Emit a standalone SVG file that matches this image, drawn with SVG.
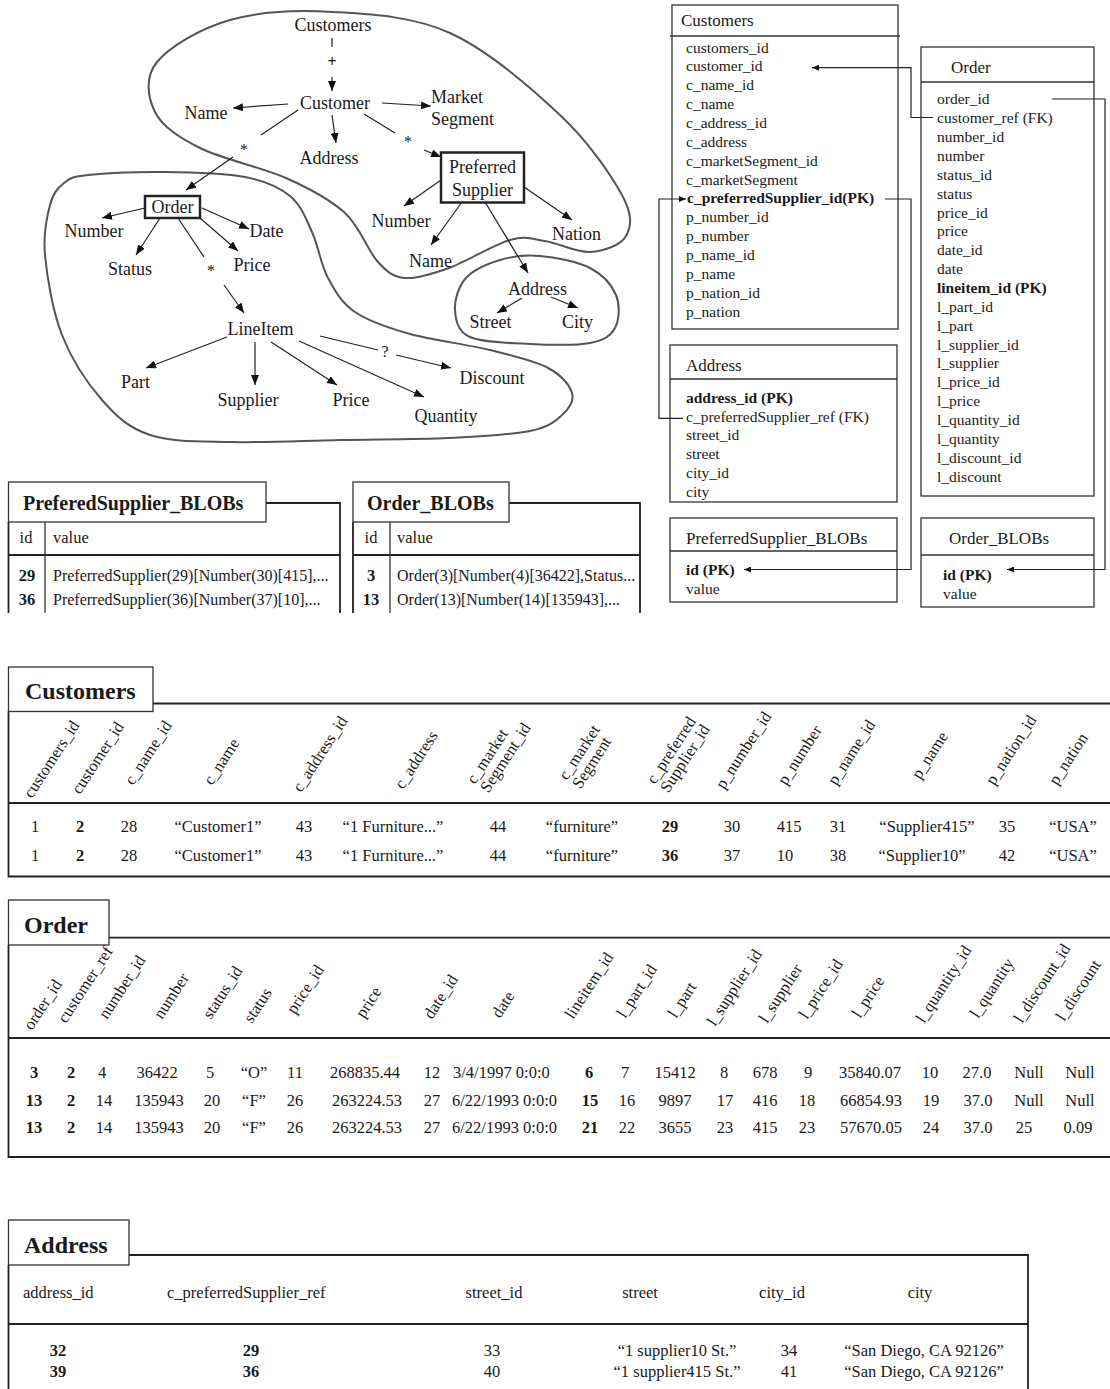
<svg xmlns="http://www.w3.org/2000/svg" width="1110" height="1389" viewBox="0 0 1110 1389">
<defs>
<style>
text{font-family:"Liberation Serif","Times New Roman",serif;fill:#1a1a1a}
.tr{font-size:18px;text-anchor:middle}
.tl{font-size:18px}
.sym{font-size:16px;text-anchor:middle}
.sc{font-size:15.5px}
.sh{font-size:17px}
.b{font-weight:bold}
.td{font-size:16.5px;text-anchor:middle}
.ts{font-size:16.5px}
.hd{font-size:16.5px}
.tt{font-size:24px;font-weight:bold}
.bt{font-size:20px;font-weight:bold}
.blob{fill:none;stroke:#555;stroke-width:2}
.edge{fill:none;stroke:#222;stroke-width:1.2}
.arr{marker-end:url(#ah)}
.box{fill:#fff;stroke:#222;stroke-width:2.5}
.frame{fill:#fff;stroke:#333;stroke-width:1.3}
.rule{fill:none;stroke:#222;stroke-width:1.8}
.thin{fill:none;stroke:#333;stroke-width:1.3}
.lnk{fill:none;stroke:#222;stroke-width:1.2;marker-end:url(#sa)}
</style>
<marker id="ah" markerUnits="userSpaceOnUse" markerWidth="11" markerHeight="8" refX="10" refY="4" orient="auto"><path d="M0,0 L10,4 L0,8 z" fill="#111"/></marker>
<marker id="sa" markerUnits="userSpaceOnUse" markerWidth="8" markerHeight="6" refX="7" refY="3" orient="auto"><path d="M0,0 L7,3 L0,6 z" fill="#111"/></marker>
</defs>
<rect width="1110" height="1389" fill="#fff"/>

<!-- grouping outlines around the element tree -->
<g id="regions">
<path class="blob" d="M333,12 C369.7,14.2 412.2,15.8 450,33 C487.8,50.2 531.3,88 560,115 C588.7,142 611,174.8 622,195 C633,215.2 631.3,226.5 626,236 C620.7,245.5 603.5,251.2 590,252 C576.5,252.8 558.3,243 545,241 C531.7,239 526,235.5 510,240 C494,244.5 466.5,261.7 449,268 C431.5,274.3 416.8,279 405,278 C393.2,277 388,272.8 378,262 C368,251.2 360.3,227 345,213 C329.7,199 310.2,188.8 286,178 C261.8,167.2 221.8,159 200,148 C178.2,137 162.2,126.3 155,112 C147.8,97.7 144.5,77.3 157,62 C169.5,46.7 200.7,28.3 230,20 C259.3,11.7 296.3,9.8 333,12 Z"/>
<path class="blob" d="M88,175 C104.5,173.2 136.8,171.7 163,172 C189.2,172.3 223.8,173 245,177 C266.2,181 278.8,186.8 290,196 C301.2,205.2 305.7,218.3 312,232 C318.3,245.7 320.8,264.7 328,278 C335.2,291.3 341.3,302.7 355,312 C368.7,321.3 387.5,327.7 410,334 C432.5,340.3 467,344.3 490,350 C513,355.7 534.3,360.8 548,368 C561.7,375.2 569.7,385.2 572,393 C574.3,400.8 569,408.7 562,415 C555,421.3 548.8,427.2 530,431 C511.2,434.8 480.7,436.5 449,438 C417.3,439.5 376.5,439.3 340,440 C303.5,440.7 261.7,442.8 230,442 C198.3,441.2 171.3,442 150,435 C128.7,428 116.7,416.7 102,400 C87.3,383.3 71.5,359.2 62,335 C52.5,310.8 47,276.7 45,255 C43,233.3 46.8,217 50,205 C53.2,193 57.7,188 64,183 C70.3,178 71.5,176.8 88,175 Z"/>
<path class="blob" d="M455,310 C454.3,300.2 458.5,286.3 466,278 C473.5,269.7 487.7,263.7 500,260 C512.3,256.3 525,254.7 540,256 C555,257.3 577.3,261.5 590,268 C602.7,274.5 611.8,285 616,295 C620.2,305 619.3,320 615,328 C610.7,336 604,340.3 590,343 C576,345.7 551,345 531,344 C511,343 482.7,342.7 470,337 C457.3,331.3 455.7,319.8 455,310 Z"/>
</g>

<!-- element tree connectors -->
<g id="tree-edges">
<path class="edge" d="M332,38 V47"/>
<text class="sym b" x="332" y="67">+</text>
<path class="edge arr" d="M332,77 V91"/>
<path class="edge arr" d="M288,104 L233,108"/>
<path class="edge arr" d="M382,103 L431,106"/>
<path class="edge arr" d="M332,115 L336,143"/>
<path class="edge" d="M298,110 L261,135"/>
<text class="sym" x="244" y="155">*</text>
<path class="edge arr" d="M233,157 L186,190"/>
<path class="edge" d="M364,114 L395,133"/>
<text class="sym" x="408" y="147">*</text>
<path class="edge arr" d="M424,150 L441,157"/>
<path class="edge arr" d="M145,208 L102,218"/>
<path class="edge arr" d="M202,208 L249,229"/>
<path class="edge arr" d="M200,218 L238,251"/>
<path class="edge arr" d="M160,218 L136,255"/>
<path class="edge" d="M178,218 L204,257"/>
<text class="sym" x="211" y="276">*</text>
<path class="edge arr" d="M224,285 L244,313"/>
<path class="edge arr" d="M441,180 L404,206"/>
<path class="edge arr" d="M462,202 L431,245"/>
<path class="edge arr" d="M524,187 L572,220"/>
<path class="edge arr" d="M485,202 L528,273"/>
<path class="edge arr" d="M522,298 L497,313"/>
<path class="edge arr" d="M551,297 L578,308"/>
<path class="edge arr" d="M227,337 L146,368"/>
<path class="edge arr" d="M255,342 L255,385"/>
<path class="edge arr" d="M271,342 L337,385"/>
<path class="edge arr" d="M299,341 L424,397"/>
<path class="edge" d="M320,336 L378,350"/>
<text class="sym" x="385" y="357">?</text>
<path class="edge arr" d="M396,355 L451,368"/>
</g>

<!-- element tree nodes -->
<g id="n-customers"><text class="tr" x="333" y="31">Customers</text></g>
<g id="n-customer"><text class="tr" x="335" y="108.5">Customer</text></g>
<g id="n-name"><text class="tr" x="206" y="119">Name</text></g>
<g id="n-market"><text class="tl" x="431" y="102.5">Market</text><text class="tl" x="431" y="124.5">Segment</text></g>
<g id="n-address"><text class="tr" x="329" y="163.5">Address</text></g>
<g id="n-supplier"><rect class="box" x="441" y="152.5" width="83" height="50"/><text class="tr" x="482.5" y="172.5">Preferred</text><text class="tr" x="482.5" y="195.5">Supplier</text></g>
<g id="n-order"><rect class="box" x="145" y="196" width="55" height="22"/><text class="tr" x="172.5" y="213">Order</text></g>
<g id="n-o-number"><text class="tr" x="94" y="236.5">Number</text></g>
<g id="n-o-date"><text class="tr" x="266.5" y="236.5">Date</text></g>
<g id="n-o-status"><text class="tr" x="130" y="274.5">Status</text></g>
<g id="n-o-price"><text class="tr" x="252" y="270.5">Price</text></g>
<g id="n-lineitem"><text class="tr" x="260.5" y="334.5">LineItem</text></g>
<g id="n-l-part"><text class="tr" x="135.5" y="387.5">Part</text></g>
<g id="n-l-supplier"><text class="tr" x="248" y="405.5">Supplier</text></g>
<g id="n-l-price"><text class="tr" x="351" y="405.5">Price</text></g>
<g id="n-l-quantity"><text class="tr" x="446" y="421.5">Quantity</text></g>
<g id="n-l-discount"><text class="tr" x="492" y="383.5">Discount</text></g>
<g id="n-p-number"><text class="tr" x="401" y="226.5">Number</text></g>
<g id="n-p-name"><text class="tr" x="430.5" y="266.5">Name</text></g>
<g id="n-p-nation"><text class="tr" x="576.5" y="239.5">Nation</text></g>
<g id="n-p-address"><text class="tr" x="537.5" y="294.5">Address</text></g>
<g id="n-street"><text class="tr" x="490.5" y="327.5">Street</text></g>
<g id="n-city"><text class="tr" x="577.5" y="327.5">City</text></g>

<!-- relational schema -->
<g id="s-customers">
<rect class="frame" x="672" y="5" width="226" height="324"/>
<path class="thin" d="M670,36 H900"/>
<text class="sh" x="681" y="26">Customers</text>
<text class="sc" x="686" y="52.5">customers_id</text>
<text class="sc" x="686" y="71.4">customer_id</text>
<text class="sc" x="686" y="90.2">c_name_id</text>
<text class="sc" x="686" y="109.1">c_name</text>
<text class="sc" x="686" y="127.9">c_address_id</text>
<text class="sc" x="686" y="146.8">c_address</text>
<text class="sc" x="686" y="165.7">c_marketSegment_id</text>
<text class="sc" x="686" y="184.5">c_marketSegment</text>
<text class="sc b" x="687" y="203.4">c_preferredSupplier_id(PK)</text>
<text class="sc" x="686" y="222.2">p_number_id</text>
<text class="sc" x="686" y="241.1">p_number</text>
<text class="sc" x="686" y="260">p_name_id</text>
<text class="sc" x="686" y="278.8">p_name</text>
<text class="sc" x="686" y="297.7">p_nation_id</text>
<text class="sc" x="686" y="316.5">p_nation</text>
</g>
<g id="s-order">
<rect class="frame" x="921" y="47" width="173" height="449"/>
<path class="thin" d="M921,82 H1094"/>
<text class="sh" x="951" y="73">Order</text>
<text class="sc" x="937" y="104.3">order_id</text>
<text class="sc" x="937" y="123.2">customer_ref (FK)</text>
<text class="sc" x="937" y="142">number_id</text>
<text class="sc" x="937" y="160.9">number</text>
<text class="sc" x="937" y="179.7">status_id</text>
<text class="sc" x="937" y="198.6">status</text>
<text class="sc" x="937" y="217.5">price_id</text>
<text class="sc" x="937" y="236.3">price</text>
<text class="sc" x="937" y="255.2">date_id</text>
<text class="sc" x="937" y="274">date</text>
<text class="sc b" x="937" y="292.9">lineitem_id (PK)</text>
<text class="sc" x="937" y="311.8">l_part_id</text>
<text class="sc" x="937" y="330.6">l_part</text>
<text class="sc" x="937" y="349.5">l_supplier_id</text>
<text class="sc" x="937" y="368.3">l_supplier</text>
<text class="sc" x="937" y="387.2">l_price_id</text>
<text class="sc" x="937" y="406.1">l_price</text>
<text class="sc" x="937" y="424.9">l_quantity_id</text>
<text class="sc" x="937" y="443.8">l_quantity</text>
<text class="sc" x="937" y="462.6">l_discount_id</text>
<text class="sc" x="937" y="481.5">l_discount</text>
</g>
<g id="s-address">
<rect class="frame" x="670" y="345" width="227" height="157"/>
<path class="thin" d="M670,379 H897"/>
<text class="sh" x="686" y="371">Address</text>
<text class="sc b" x="686" y="402.7">address_id (PK)</text>
<text class="sc" x="686" y="421.6">c_preferredSupplier_ref (FK)</text>
<text class="sc" x="686" y="440.4">street_id</text>
<text class="sc" x="686" y="459.3">street</text>
<text class="sc" x="686" y="478.1">city_id</text>
<text class="sc" x="686" y="497">city</text>
</g>
<g id="s-ps-blobs">
<rect class="frame" x="670" y="518" width="227" height="84"/>
<path class="thin" d="M670,551 H897"/>
<text class="sh" x="686" y="543.5">PreferredSupplier_BLOBs</text>
<text class="sc b" x="686" y="575">id (PK)</text>
<text class="sc" x="686" y="593.5">value</text>
</g>
<g id="s-order-blobs">
<rect class="frame" x="921" y="518" width="173" height="89"/>
<path class="thin" d="M921,555 H1094"/>
<text class="sh" x="949" y="543.5">Order_BLOBs</text>
<text class="sc b" x="943" y="580">id (PK)</text>
<text class="sc" x="943" y="598.5">value</text>
</g>

<!-- key references between schema tables -->
<g id="s-links">
<path class="lnk" d="M933,117.5 H911 V67.7 H812"/>
<path class="lnk" d="M885,199 H911 V569.5 H744"/>
<path class="lnk" d="M1052,99 H1105 V569.5 H1007"/>
<path class="lnk" d="M683,418.3 H659 V199 H686"/>
</g>

<!-- BLOB tables -->
<g id="t-ps-blobs">
<path class="rule" d="M266,503 H340 V613 M8.5,522 V613 M8.5,555 H340"/>
<path class="thin" d="M45,522 V613"/>
<rect class="frame" x="8.5" y="482" width="257.5" height="40" stroke-width="1.8"/>
<text class="bt" x="23" y="509.5">PreferedSupplier_BLOBs</text>
<text class="td" x="26" y="543">id</text>
<text class="ts" x="53" y="543">value</text>
<text class="td b" x="27" y="581">29</text>
<text class="ts" x="53" y="581" style="font-size:16px">PreferredSupplier(29)[Number(30)[415],...</text>
<text class="td b" x="27" y="605">36</text>
<text class="ts" x="53" y="605" style="font-size:16px">PreferredSupplier(36)[Number(37)[10],...</text>
</g>
<g id="t-order-blobs">
<path class="rule" d="M509,503 H640 V613 M353,522 V613 M353,555 H640"/>
<path class="thin" d="M390,522 V613"/>
<rect class="frame" x="353" y="482" width="156" height="40" stroke-width="1.8"/>
<text class="bt" x="367" y="509.5">Order_BLOBs</text>
<text class="td" x="371" y="543">id</text>
<text class="ts" x="397" y="543">value</text>
<text class="td b" x="371" y="581">3</text>
<text class="ts" x="397" y="581" style="font-size:16px">Order(3)[Number(4)[36422],Status...</text>
<text class="td b" x="371" y="605">13</text>
<text class="ts" x="397" y="605" style="font-size:16px">Order(13)[Number(14)[135943],...</text>
</g>

<!-- Customers table -->
<g id="t-customers">
<path class="rule" d="M153,703.5 H1110 M8.5,711.5 V876.5 H1110 M8.5,803 H1110"/>
<rect class="frame" x="8.5" y="667" width="144.5" height="44.5" stroke-width="1.8"/>
<text class="tt" x="25" y="699">Customers</text>
<text class="hd" transform="translate(32 799) rotate(-57)">customers_id</text>
<text class="hd" transform="translate(80 795) rotate(-57)">customer_id</text>
<text class="hd" transform="translate(133 786) rotate(-57)">c_name_id</text>
<text class="hd" transform="translate(212 786) rotate(-57)">c_name</text>
<text class="hd" transform="translate(301 793) rotate(-57)">c_address_id</text>
<text class="hd" transform="translate(403 790) rotate(-57)">c_address</text>
<text class="hd" transform="translate(475 785) rotate(-57)"><tspan x="0" y="0">c_market</tspan><tspan x="0" y="16">Segment_id</tspan></text>
<text class="hd" transform="translate(567 781) rotate(-57)"><tspan x="0" y="0">c_market</tspan><tspan x="0" y="16">Segment</tspan></text>
<text class="hd" transform="translate(655 785) rotate(-57)"><tspan x="0" y="0">c_preferred</tspan><tspan x="0" y="16">Supplier_id</tspan></text>
<text class="hd" transform="translate(724 790) rotate(-57)">p_number_id</text>
<text class="hd" transform="translate(786 786) rotate(-57)">p_number</text>
<text class="hd" transform="translate(836 786) rotate(-57)">p_name_id</text>
<text class="hd" transform="translate(920 780) rotate(-57)">p_name</text>
<text class="hd" transform="translate(994 786) rotate(-57)">p_nation_id</text>
<text class="hd" transform="translate(1057 786) rotate(-57)">p_nation</text>
<text class="td" x="35" y="832">1</text><text class="td b" x="80" y="832">2</text><text class="td" x="129" y="832">28</text><text class="td" x="218" y="832">“Customer1”</text><text class="td" x="304" y="832">43</text><text class="td" x="393" y="832">“1 Furniture...”</text><text class="td" x="498" y="832">44</text><text class="td" x="582" y="832">“furniture”</text><text class="td b" x="670" y="832">29</text><text class="td" x="732" y="832">30</text><text class="td" x="789" y="832">415</text><text class="td" x="838" y="832">31</text><text class="td" x="927" y="832">“Supplier415”</text><text class="td" x="1007" y="832">35</text><text class="td" x="1073" y="832">“USA”</text>
<text class="td" x="35" y="860.5">1</text><text class="td b" x="80" y="860.5">2</text><text class="td" x="129" y="860.5">28</text><text class="td" x="218" y="860.5">“Customer1”</text><text class="td" x="304" y="860.5">43</text><text class="td" x="393" y="860.5">“1 Furniture...”</text><text class="td" x="498" y="860.5">44</text><text class="td" x="582" y="860.5">“furniture”</text><text class="td b" x="670" y="860.5">36</text><text class="td" x="732" y="860.5">37</text><text class="td" x="785" y="860.5">10</text><text class="td" x="838" y="860.5">38</text><text class="td" x="922" y="860.5">“Supplier10”</text><text class="td" x="1007" y="860.5">42</text><text class="td" x="1073" y="860.5">“USA”</text>
</g>

<!-- Order table -->
<g id="t-order">
<path class="rule" d="M109,937.7 H1110 M8.5,945 V1157 H1110 M8.5,1038 H1110"/>
<rect class="frame" x="8.5" y="900" width="100.5" height="45" stroke-width="1.8"/>
<text class="tt" x="24" y="933">Order</text>
<text class="hd" transform="translate(32 1031) rotate(-57)">order_id</text>
<text class="hd" transform="translate(66 1024) rotate(-57)">customer_ref</text>
<text class="hd" transform="translate(107 1020) rotate(-57)">number_id</text>
<text class="hd" transform="translate(162 1020) rotate(-57)">number</text>
<text class="hd" transform="translate(211 1020) rotate(-57)">status_id</text>
<text class="hd" transform="translate(252 1024) rotate(-57)">status</text>
<text class="hd" transform="translate(295 1015) rotate(-57)">price_id</text>
<text class="hd" transform="translate(364 1019) rotate(-57)">price</text>
<text class="hd" transform="translate(432 1020) rotate(-57)">date_id</text>
<text class="hd" transform="translate(500 1019) rotate(-57)">date</text>
<text class="hd" transform="translate(573 1020) rotate(-57)">lineitem_id</text>
<text class="hd" transform="translate(625 1019) rotate(-57)">l_part_id</text>
<text class="hd" transform="translate(676 1019) rotate(-57)">l_part</text>
<text class="hd" transform="translate(715 1027) rotate(-57)">l_supplier_id</text>
<text class="hd" transform="translate(767 1024) rotate(-57)">l_supplier</text>
<text class="hd" transform="translate(807 1020) rotate(-57)">l_price_id</text>
<text class="hd" transform="translate(860 1019) rotate(-57)">l_price</text>
<text class="hd" transform="translate(924 1024) rotate(-57)">l_quantity_id</text>
<text class="hd" transform="translate(978 1019) rotate(-57)">l_quantity</text>
<text class="hd" transform="translate(1022 1024) rotate(-57)">l_discount_id</text>
<text class="hd" transform="translate(1064 1022) rotate(-57)">l_discount</text>
<text class="td b" x="34" y="1078">3</text><text class="td b" x="71" y="1078">2</text><text class="td" x="102" y="1078">4</text><text class="td" x="157" y="1078">36422</text><text class="td" x="210" y="1078">5</text><text class="td" x="254" y="1078">“O”</text><text class="td" x="295" y="1078">11</text><text class="td" x="365" y="1078">268835.44</text><text class="td" x="432" y="1078">12</text><text class="ts" x="453" y="1078">3/4/1997 0:0:0</text><text class="td b" x="589" y="1078">6</text><text class="td" x="625" y="1078">7</text><text class="td" x="675" y="1078">15412</text><text class="td" x="724" y="1078">8</text><text class="td" x="765" y="1078">678</text><text class="td" x="808" y="1078">9</text><text class="td" x="870" y="1078">35840.07</text><text class="td" x="930" y="1078">10</text><text class="td" x="977" y="1078">27.0</text><text class="td" x="1029" y="1078">Null</text><text class="td" x="1080" y="1078">Null</text>
<text class="td b" x="34" y="1105.5">13</text><text class="td b" x="71" y="1105.5">2</text><text class="td" x="104" y="1105.5">14</text><text class="td" x="159" y="1105.5">135943</text><text class="td" x="212" y="1105.5">20</text><text class="td" x="254" y="1105.5">“F”</text><text class="td" x="295" y="1105.5">26</text><text class="td" x="367" y="1105.5">263224.53</text><text class="td" x="432" y="1105.5">27</text><text class="ts" x="452" y="1105.5">6/22/1993 0:0:0</text><text class="td b" x="590" y="1105.5">15</text><text class="td" x="627" y="1105.5">16</text><text class="td" x="675" y="1105.5">9897</text><text class="td" x="725" y="1105.5">17</text><text class="td" x="765" y="1105.5">416</text><text class="td" x="807" y="1105.5">18</text><text class="td" x="871" y="1105.5">66854.93</text><text class="td" x="931" y="1105.5">19</text><text class="td" x="978" y="1105.5">37.0</text><text class="td" x="1029" y="1105.5">Null</text><text class="td" x="1080" y="1105.5">Null</text>
<text class="td b" x="34" y="1133">13</text><text class="td b" x="71" y="1133">2</text><text class="td" x="104" y="1133">14</text><text class="td" x="159" y="1133">135943</text><text class="td" x="212" y="1133">20</text><text class="td" x="254" y="1133">“F”</text><text class="td" x="295" y="1133">26</text><text class="td" x="367" y="1133">263224.53</text><text class="td" x="432" y="1133">27</text><text class="ts" x="452" y="1133">6/22/1993 0:0:0</text><text class="td b" x="590" y="1133">21</text><text class="td" x="627" y="1133">22</text><text class="td" x="675" y="1133">3655</text><text class="td" x="725" y="1133">23</text><text class="td" x="765" y="1133">415</text><text class="td" x="807" y="1133">23</text><text class="td" x="871" y="1133">57670.05</text><text class="td" x="931" y="1133">24</text><text class="td" x="978" y="1133">37.0</text><text class="td" x="1024" y="1133">25</text><text class="td" x="1078" y="1133">0.09</text>
</g>

<!-- Address table -->
<g id="t-address">
<path class="rule" d="M129,1255 H1028 V1389 M8.5,1265 V1389 M8.5,1324 H1028"/>
<rect class="frame" x="8.5" y="1220" width="120.5" height="45" stroke-width="1.8"/>
<text class="tt" x="24" y="1253">Address</text>
<text class="ts" x="23" y="1298">address_id</text>
<text class="ts" x="167" y="1298">c_preferredSupplier_ref</text>
<text class="td" x="494" y="1298">street_id</text>
<text class="td" x="640" y="1298">street</text>
<text class="td" x="782" y="1298">city_id</text>
<text class="td" x="920" y="1298">city</text>
<text class="td b" x="58" y="1355.5">32</text><text class="td b" x="251" y="1355.5">29</text><text class="td" x="492" y="1355.5">33</text><text class="td" x="677" y="1355.5">“1 supplier10 St.”</text><text class="td" x="789" y="1355.5">34</text><text class="td" x="924" y="1355.5">“San Diego, CA 92126”</text>
<text class="td b" x="58" y="1377">39</text><text class="td b" x="251" y="1377">36</text><text class="td" x="492" y="1377">40</text><text class="td" x="677" y="1377">“1 supplier415 St.”</text><text class="td" x="789" y="1377">41</text><text class="td" x="924" y="1377">“San Diego, CA 92126”</text>
</g>
</svg>
